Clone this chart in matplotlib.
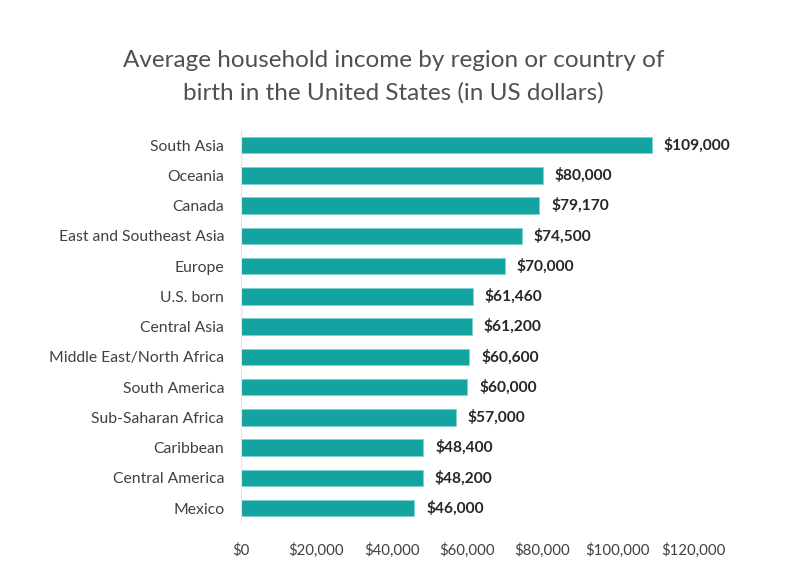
import matplotlib
matplotlib.use("Agg")
import matplotlib.pyplot as plt
from matplotlib.ticker import FuncFormatter

regions = ["South Asia", "Oceania", "Canada", "East and Southeast Asia", "Europe",
           "U.S. born", "Central Asia", "Middle East/North Africa", "South America",
           "Sub-Saharan Africa", "Caribbean", "Central America", "Mexico"]
income = [109000, 80000, 79170, 74500, 70000, 61460, 61200, 60600, 60000,
          57000, 48400, 48200, 46000]
xticks = [0, 20000, 40000, 60000, 80000, 100000, 120000]

plt.rcParams['font.family'] = ['Lato', 'DejaVu Sans']
txt = '#404040'

fig = plt.figure(figsize=(7.87, 5.75), dpi=100)
ax = fig.add_axes([0.306, 0.09, 0.575, 0.684])

y = list(range(len(regions)))
ax.barh(y, income, height=0.55, color='#13A3A0', edgecolor='#7fd3d0', linewidth=0.6)
ax.set_ylim(len(regions) - 0.5, -0.5)
ax.set_xlim(0, 120000)
ax.set_yticks(y)
ax.set_yticklabels(regions, fontsize=11.3, color=txt)
ax.set_xticks(xticks)
ax.xaxis.set_major_formatter(FuncFormatter(lambda v, p: f"${v:,.0f}"))
ax.tick_params(axis='x', labelsize=10.8, colors=txt, length=0, pad=14)
ax.tick_params(axis='y', length=0, pad=12)

for s in ['top', 'right', 'bottom']:
    ax.spines[s].set_visible(False)
ax.spines['left'].set_color('#e6e6e6')

for yi, v in zip(y, income):
    ax.text(v + 3200, yi, f"${v:,.0f}", va='center', ha='left',
            fontsize=11.2, fontweight='bold', color='#262626')

fig.text(0.5, 0.866, "Average household income by region or country of\nbirth in the United States (in US dollars)",
         ha='center', va='center', fontsize=17.5, color='#505050', linespacing=1.62)

fig.savefig("out.png", dpi=100)
